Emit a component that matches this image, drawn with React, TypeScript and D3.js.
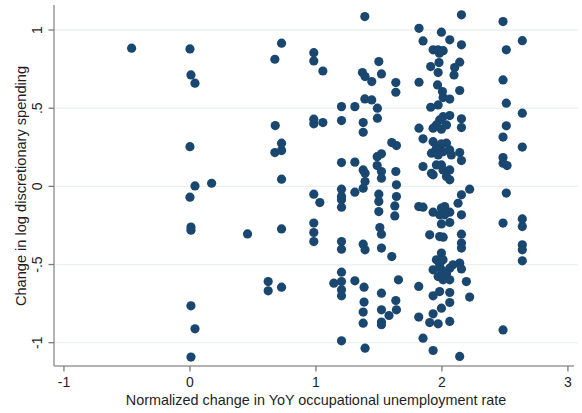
import React from "react";
import * as d3 from "d3";

const xValues: number[] = [
  -0.463,
  0, 0.008, 0.04, 0, 0.04, 0, 0.008, 0.008, 0.008, 0.04, 0.008,
  0.172, 0.457,
  0.727, 0.674, 0.677, 0.727, 0.727, 0.674, 0.727, 0.727, 0.621, 0.621, 0.727,
  0.983, 0.983, 1.055, 0.983, 0.983, 1.055, 0.983, 1.031, 0.983, 0.983, 0.983,
  1.203, 1.203, 1.203, 1.203, 1.203, 1.203, 1.203, 1.203, 1.203, 1.203, 1.142, 1.203, 1.203, 1.203, 1.203,
  1.309, 1.309, 1.309, 1.309,
  1.388, 1.369, 1.39, 1.388, 1.375, 1.375, 1.375, 1.39, 1.39, 1.375, 1.375, 1.39, 1.382, 1.382, 1.375, 1.375, 1.39,
  1.443, 1.443,
  1.499, 1.52, 1.488, 1.488, 1.486, 1.52, 1.486, 1.52, 1.52, 1.499, 1.499, 1.499, 1.507, 1.52, 1.52, 1.52, 1.52, 1.52, 1.52,
  1.58, 1.602, 1.602,
  1.634, 1.634, 1.639, 1.634, 1.639, 1.639, 1.626, 1.626, 1.655, 1.634, 1.639,
  1.818, 1.85, 1.818, 1.818, 1.85, 1.85, 1.816, 1.85, 1.816, 1.816, 1.85,
  1.996, 2.062, 1.93, 1.97, 2.01, 1.98, 1.977, 1.911, 1.97, 2.101, 2.096, 1.965, 2.004, 2.009, 2.062, 1.97, 1.911,
  2.062, 2.009, 1.982, 1.956, 1.93, 1.996, 2.036, 1.93, 1.996, 2.036, 1.956, 1.917, 1.97, 2.062, 2.075, 2.009,
  1.917, 1.956, 1.996, 2.009, 2.062, 2.036, 2.062, 1.93,
  1.93, 1.996, 2.022, 2.062, 1.982, 2.022, 1.996, 2.062, 1.903, 1.982, 2.01, 1.996, 1.956, 2.009, 1.982, 1.93,
  1.996, 2.062, 2.088, 1.97, 2.009, 2.036, 2.062, 1.93, 1.982, 2.062, 2.062, 1.996, 1.93, 1.903, 1.97, 2.062, 1.93,
  2.155, 2.155, 2.141, 2.141, 2.155, 2.155, 2.141, 2.155, 2.22, 2.155, 2.128, 2.155, 2.155, 2.155, 2.155, 2.141,
  2.155, 2.194, 2.22, 2.141,
  2.485, 2.511, 2.485, 2.511, 2.511, 2.485, 2.485, 2.485, 2.517, 2.511, 2.485, 2.485,
  2.638, 2.638, 2.638, 2.638, 2.638, 2.638, 2.638, 2.638,
];

const yValues: number[] = [
  0.884,
  0.879, 0.713, 0.66, 0.254, 0.003, -0.069, -0.26, -0.28, -0.764, -0.911, -1.092,
  0.02, -0.304,
  0.916, 0.813, 0.389, 0.276, 0.229, 0.216, 0.046, -0.272, -0.609, -0.668, -0.645,
  0.855, 0.802, 0.738, 0.43, 0.4, 0.408, -0.05, -0.104, -0.235, -0.295, -0.353,
  0.51, 0.421, 0.152, -0.018, -0.065, -0.086, -0.133, -0.353, -0.402, -0.549, -0.619, -0.609, -0.662, -0.7, -0.988,
  0.51, 0.155, -0.037, -0.604,
  1.086, 0.728, 0.702, 0.559, 0.408, 0.346, 0.105, 0.084, 0.031, -0.012, -0.37, -0.406, -0.645, -0.74, -0.804, -0.875, -1.035,
  0.67, 0.553,
  0.798, 0.719, 0.5, 0.436, 0.19, 0.208, 0.133, 0.095, 0.052, -0.05, -0.097, -0.161, -0.263, -0.306, -0.395, -0.683, -0.79, -0.868, -0.885,
  -0.826, -0.449, 0.28,
  0.664, 0.602, 0.261, 0.095, 0.01, -0.065, -0.125, -0.189, -0.598, -0.73, -0.79,
  1.011, 0.93, 0.666, 0.372, 0.304, 0.127, -0.129, -0.133, -0.64, -0.836, -0.971,
  0.986, 0.937, 0.873, 0.873, 0.868, 0.852, 0.792, 0.766, 0.728, 0.76, 0.713, 0.649, 0.606, 0.568, 0.558, 0.521, 0.506,
  0.453, 0.446, 0.425, 0.393, 0.372, 0.366, 0.393, 0.286, 0.272, 0.276, 0.244, 0.212, 0.201, 0.233, 0.201, 0.222,
  0.084, 0.137, 0.137, 0.105, 0.105, 0.063, 0.042, 0.074,
  -0.165, -0.139, -0.129, -0.165, -0.182, -0.182, -0.24, -0.231, -0.31, -0.321, -0.325, -0.427, -0.47, -0.47, -0.502, -0.534,
  -0.534, -0.523, -0.502, -0.577, -0.598, -0.559, -0.598, -0.7, -0.673, -0.679, -0.743, -0.779, -0.815, -0.871, -0.879, -0.864, -1.05,
  1.097, 0.905, 0.794, 0.613, 0.432, 0.376, 0.216, 0.165, -0.018, -0.054, -0.108, -0.182, -0.306, -0.363, -0.395, -0.491,
  -0.528, -0.609, -0.708, -1.088,
  1.054, 0.873, 0.681, 0.532, 0.387, 0.315, 0.184, 0.148, 0.133, -0.043, -0.235, -0.918,
  0.932, 0.468, 0.251, -0.208, -0.257, -0.374, -0.406, -0.476,
];

const xTicks: number[] = [-1, 0, 1, 2, 3];
const xTickLabels: string[] = ["-1", "0", "1", "2", "3"];
const yTicks: number[] = [1, 0.5, 0, -0.5, -1];
const yTickLabels: string[] = ["1", ".5", "0", "-.5", "-1"];

const xTitle = "Normalized change in YoY occupational unemployment rate";
const yTitle = "Change in log discretionary spending";

export default function App() {
  const W = 582;
  const H = 413;
  const left = 54;
  const right = 578;
  const top = 5;
  const bottom = 366;

  const x = d3.scaleLinear().domain([-1.079, 3.08]).range([left, right]);
  const y = d3.scaleLinear().domain([-1.149, 1.16]).range([bottom, top]);

  const font = "'Liberation Sans', Arial, Helvetica, sans-serif";
  const textColor = "#1e1e1e";
  const points = xValues.map((xv, i) => ({ x: xv, y: yValues[i] }));

  return (
    <div style={{ position: "fixed", left: 0, top: 0, width: W, height: H, background: "#fff" }}>
      <svg width={W} height={H} style={{ display: "block" }}>
        <rect x={0} y={0} width={W} height={H} fill="#ffffff" />
        {yTicks.map((t) => (
          <line key={"g" + t} x1={left} x2={right} y1={y(t)} y2={y(t)} stroke="#eaf1f2" strokeWidth={1.3} />
        ))}
        {points.map((p, i) => (
          <circle key={i} cx={x(p.x)} cy={y(p.y)} r={4.6} fill="#1a476f" />
        ))}
        <line x1={left} x2={left} y1={top} y2={bottom} stroke="#9a9a9a" strokeWidth={1.5} />
        <line x1={left} x2={right - 4} y1={bottom} y2={bottom} stroke="#9a9a9a" strokeWidth={1.5} />
        {yTicks.map((t, i) => (
          <g key={"yt" + t}>
            <line x1={left - 5.5} x2={left} y1={y(t)} y2={y(t)} stroke="#7a7a7a" strokeWidth={1.3} />
            <text
              transform={`translate(42, ${y(t)}) rotate(-90)`}
              textAnchor="middle"
              fontFamily={font}
              fontSize={14}
              fill={textColor}
            >
              {yTickLabels[i]}
            </text>
          </g>
        ))}
        {xTicks.map((t, i) => (
          <g key={"xt" + t}>
            <line x1={x(t)} x2={x(t)} y1={bottom} y2={bottom + 5.5} stroke="#7a7a7a" strokeWidth={1.3} />
            <text x={x(t)} y={387} textAnchor="middle" fontFamily={font} fontSize={14} fill={textColor}>
              {xTickLabels[i]}
            </text>
          </g>
        ))}
        <text
          x={(left + right) / 2}
          y={405}
          textAnchor="middle"
          fontFamily={font}
          fontSize={14.4}
          fill={textColor}
        >
          {xTitle}
        </text>
        <text
          transform={`translate(26, 186) rotate(-90)`}
          textAnchor="middle"
          fontFamily={font}
          fontSize={14.6}
          fill={textColor}
        >
          {yTitle}
        </text>
      </svg>
    </div>
  );
}
